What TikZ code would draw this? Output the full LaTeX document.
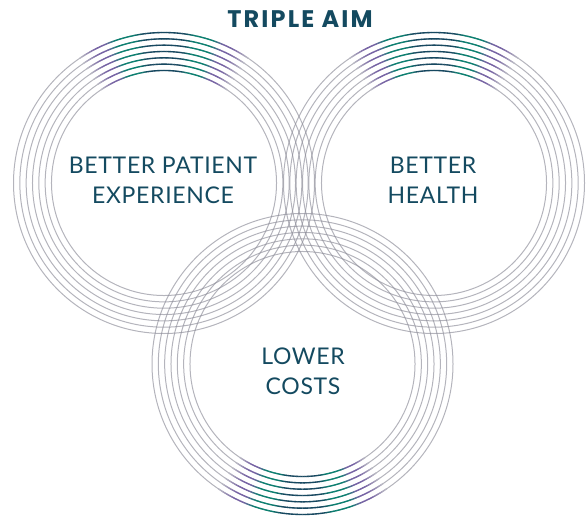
\documentclass[tikz,border=0pt]{standalone}
\usepackage{fontspec}
\setmainfont{Lato}
\newfontfamily\lblfont[LetterSpace=3]{Lato}
\newfontfamily\ttlfont[LetterSpace=9]{Poppins}
\definecolor{txtc}{RGB}{20,74,96}
\definecolor{ringgray}{RGB}{140,140,152}
\definecolor{navyc}{RGB}{22,72,96}
\definecolor{tealc}{RGB}{10,128,112}
\definecolor{purplec}{RGB}{118,98,165}
\definecolor{fadegray}{RGB}{190,190,198}
\tikzset{
  ring/.style={draw=ringgray, draw opacity=0.65, line width=1pt},
  arcseg/.style={draw=segc, line width=1.35pt},
  lbl/.style={text=txtc, align=center, font=\lblfont\fontsize{23}{30}\selectfont},
  ttl/.style={text=txtc, font=\ttlfont\bfseries\fontsize{24}{28}\selectfont}
}
\begin{document}
\begin{tikzpicture}[x=1pt,y=-1pt]
\useasboundingbox (0,0) rectangle (588,516);
\coordinate (cL) at (164,183);
\coordinate (cR) at (434,183);
\coordinate (cB) at (302.5,364);
% gray rings
\foreach \c in {cL,cR,cB}{
  \foreach \k in {0,...,6}{
    \pgfmathsetmacro\r{150.5-6.33*\k}
    \draw[ring] (\c) circle[radius=\r];
  }
}
% coloured arcs
\foreach \d in {0,1,...,33}{
  \pgfmathsetmacro\m{\d+0.5}
  \ifdim\m pt<8pt \colorlet{segc}{navyc}
  \else\ifdim\m pt<12pt \pgfmathtruncatemacro\p{100*(12-\m)/4}\colorlet{segc}{navyc!\p!tealc}
  \else\ifdim\m pt<19pt \colorlet{segc}{tealc}
  \else\ifdim\m pt<23pt \pgfmathtruncatemacro\p{100*(23-\m)/4}\colorlet{segc}{tealc!\p!purplec}
  \else\ifdim\m pt<27pt \colorlet{segc}{purplec}
  \else \pgfmathtruncatemacro\p{100*(34-\m)/7}\colorlet{segc}{purplec!\p!fadegray}
  \fi\fi\fi\fi\fi
  \foreach \c/\b in {cL/270, cR/270, cB/90}{
    \foreach \k in {0,...,6}{
      \pgfmathsetmacro\r{150.5-6.33*\k}
      \draw[arcseg] ([shift={(\b+\d:\r)}]\c) arc[start angle=\b+\d, end angle=\b+\d+1.1, radius=\r];
      \draw[arcseg] ([shift={(\b-\d:\r)}]\c) arc[start angle=\b-\d, end angle=\b-\d-1.1, radius=\r];
    }
  }
}
\node[ttl] (title) at (300,19) {TRIPLE AIM};
\node[lbl] (pe) at (163,180) {BETTER PATIENT\\EXPERIENCE};
\node[lbl] (bh) at (433,180) {BETTER\\HEALTH};
\node[lbl] (lc) at (303,371) {LOWER\\COSTS};
\end{tikzpicture}
\end{document}
